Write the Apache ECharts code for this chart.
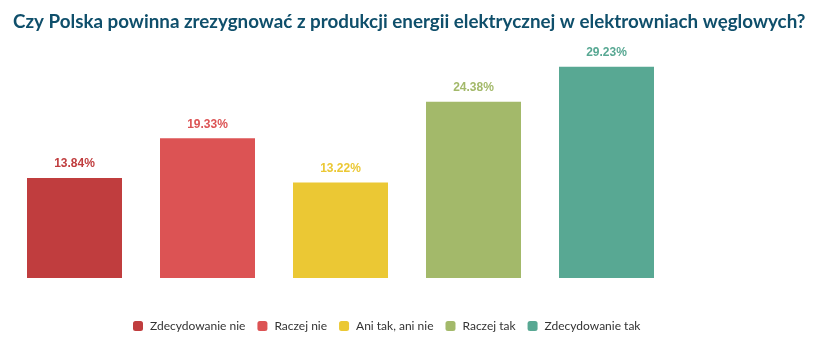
<!DOCTYPE html>
<html><head><meta charset="utf-8">
<script src="https://cdn.jsdelivr.net/npm/echarts@6/dist/echarts.min.js"></script>
<style>html,body{margin:0;padding:0;background:#fff}#c{width:815px;height:344px}</style>
</head><body><div id="c"></div>
<script>
const categories = ['Zdecydowanie nie', 'Raczej nie', 'Ani tak, ani nie', 'Raczej tak', 'Zdecydowanie tak'];
const values = [13.84, 19.33, 13.22, 24.38, 29.23];
const colors = ['#c03d3e', '#dc5354', '#ebc834', '#a3b96a', '#58a893'];

const series = categories.map((name, i) => ({
  name: name,
  type: 'bar',
  stack: 'all',
  barWidth: 95,
  itemStyle: { color: colors[i] },
  label: {
    show: true, position: 'top', distance: 8,
    color: colors[i], fontFamily: 'Liberation Sans', fontWeight: 'bold', fontSize: 12,
    formatter: p => p.value.toFixed(2) + '%'
  },
  data: categories.map((c, j) => j === i ? values[i] : '-')
}));

const chart = echarts.init(document.getElementById('c'));
chart.setOption({
  animation: false,
  title: {
    text: 'Czy Polska powinna zrezygnować z produkcji energii elektrycznej w elektrowniach węglowych?',
    left: 8, top: 7,
    textStyle: { fontFamily: 'Lato', fontWeight: 'bold', fontSize: 18.8, color: '#0f4f6b' }
  },
  legend: {
    left: 128, top: 315,
    itemWidth: 10, itemHeight: 10, itemGap: 12,
    icon: 'roundRect',
    textStyle: { fontFamily: 'Lato', fontSize: 12, color: '#333', padding: [0, 0, 0, 2] },
    data: categories
  },
  grid: { left: 8, right: 142, top: 25, bottom: 66 },
  xAxis: { type: 'category', data: categories, show: false },
  yAxis: { type: 'value', min: 0, max: 35, show: false },
  series: series
});
</script></body></html>
